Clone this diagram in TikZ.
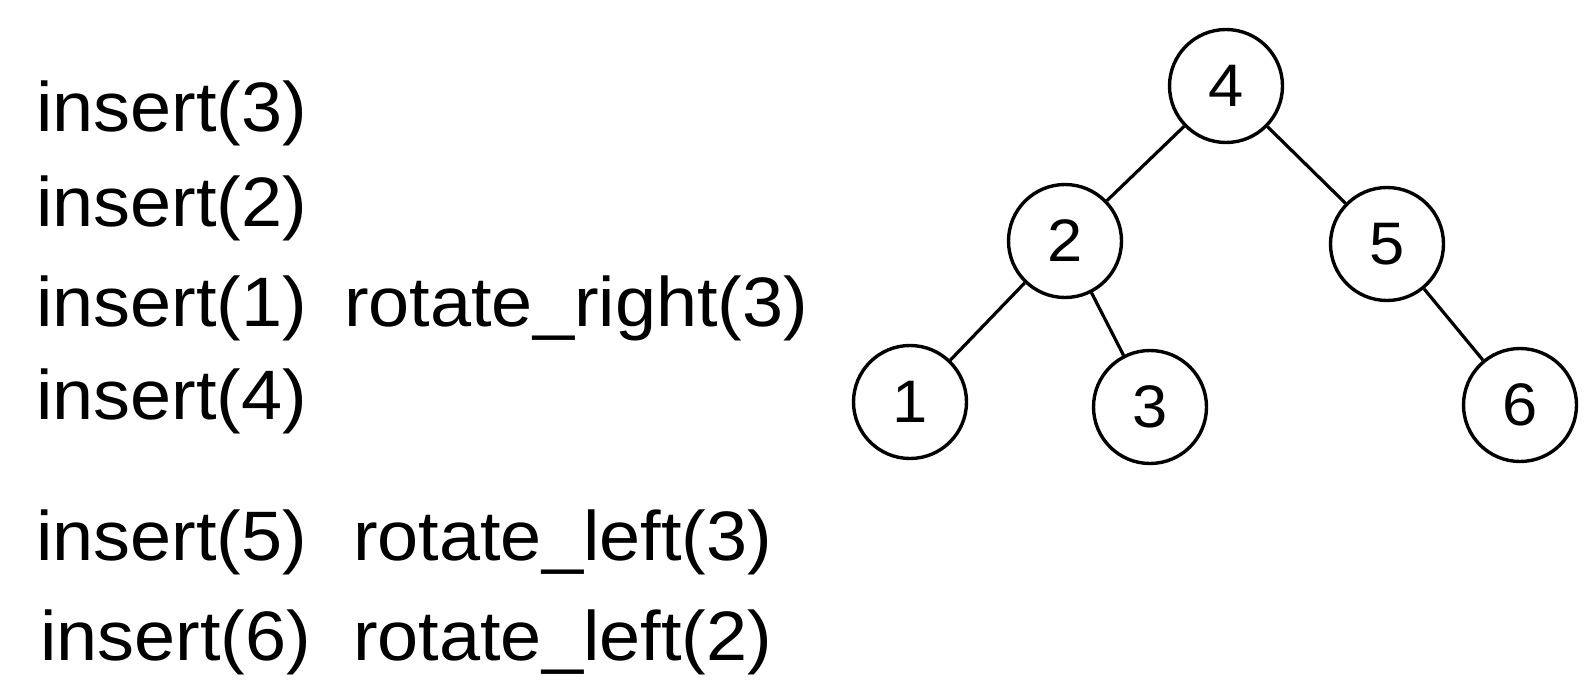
\documentclass[tikz,border=0pt]{standalone}
\usepackage{fontspec}
\setmainfont{Liberation Sans}[FakeStretch=1.055]
\begin{document}
\begin{tikzpicture}[x=1bp,y=-1bp,
  op/.style={anchor=base west,inner sep=0pt,font=\fontsize{70bp}{80bp}\selectfont},
  tnode/.style={draw,circle,line width=3.4bp,minimum size=113bp,inner sep=0pt,font=\fontsize{60bp}{68bp}\selectfont},
  edge/.style={line width=3.2bp}]
\useasboundingbox (0,0) rectangle (1594,690);
\node[op] (i3) at (36,132) {insert(3)};
\node[op] (i2) at (36,226) {insert(2)};
\node[op] (i1) at (36,326) {insert(1)};
\node[op] (rr3) at (344,326) {rotate\_right(3)};
\node[op] (i4) at (36,419) {insert(4)};
\node[op] (i5) at (36,560) {insert(5)};
\node[op] (rl3) at (353,560) {rotate\_left(3)};
\node[op] (i6) at (40,660) {insert(6)};
\node[op] (rl2) at (353,660) {rotate\_left(2)};
\node[tnode] (n4) at (1226,86) {4};
\node[tnode] (n2) at (1065,241) {2};
\node[tnode] (n5) at (1387,244) {5};
\node[tnode] (n1) at (910,402) {1};
\node[tnode] (n3) at (1150,407) {3};
\node[tnode] (n6) at (1520,405) {6};
\draw[edge] (n4) -- (n2);
\draw[edge] (n4) -- (n5);
\draw[edge] (n2) -- (n1);
\draw[edge] (n2) -- (n3);
\draw[edge] (n5) -- (n6);
\end{tikzpicture}
\end{document}
